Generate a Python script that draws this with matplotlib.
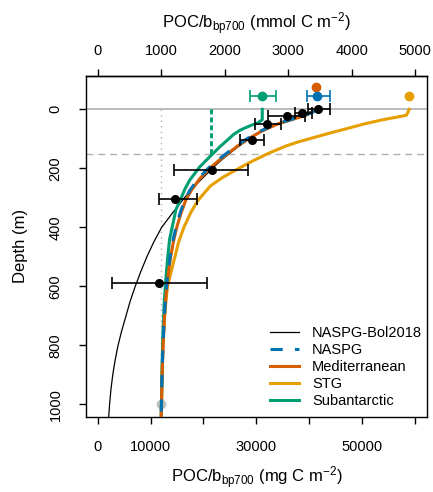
import matplotlib
matplotlib.use('Agg')
import matplotlib.pyplot as plt
import numpy as np

plt.rcParams['font.family'] = ['Liberation Sans', 'DejaVu Sans']
plt.rcParams['mathtext.fontset'] = 'custom'
plt.rcParams['mathtext.rm'] = 'Liberation Sans'
plt.rcParams['mathtext.default'] = 'regular'

MG_PER_MMOL = 12.011

# profile curves, POC/bbp700 (mg C m-2) against depth (m)
bol_depth = [0, 25, 50, 75, 100, 125, 150, 175, 200, 250, 300, 350, 400, 450, 500, 550,
             600, 650, 700, 750, 800, 850, 900, 950, 1000, 1042]
bol_poc = [41600, 37300, 33800, 31000, 28700, 26700, 24900, 23200, 21700, 18900, 16400, 14200,
           12100, 10600, 9300, 8150, 7100, 6150, 5350, 4550, 3850, 3300, 2850, 2500, 2250, 2080]

naspg_depth = [0, 10, 20, 35, 50, 75, 100, 125, 150, 175, 200, 235, 275, 310, 350, 400, 450,
               500, 550, 625, 700, 775, 850, 925, 1000, 1042]
naspg_poc = [41500, 40600, 39300, 36500, 33700, 30600, 28200, 26100, 24300, 22500, 20900, 19000,
             17400, 16400, 15600, 14800, 14150, 13700, 13300, 12900, 12600, 12400, 12250, 12130,
             12050, 12000]

med_depth = [0, 10, 20, 35, 50, 75, 100, 125, 150, 175, 200, 235, 275, 310, 350, 400, 450,
             500, 550, 625, 700, 775, 850, 925, 1000, 1042]
med_poc = [41300, 40500, 39400, 36700, 34000, 30900, 28500, 26400, 24600, 22800, 21200, 19300,
           17700, 16600, 15800, 14950, 14300, 13800, 13400, 12950, 12650, 12420, 12270, 12140,
           12060, 12010]

stg_depth = [0, 20, 25, 36, 50, 64, 80, 95, 110, 125, 150, 175, 200, 230, 260, 310, 350, 400,
             450, 500, 550, 600, 650, 700, 800, 900, 1000, 1042]
stg_poc = [58930, 58400, 57000, 53700, 50300, 47400, 44000, 41000, 38000, 35500, 32200, 29300,
           26700, 23700, 21300, 18900, 17600, 16300, 15300, 14600, 13900, 13200, 12900, 12650,
           12350, 12180, 12080, 12030]

sub_depth = [0, 35, 45, 55, 70, 85, 100, 127, 150, 175, 195, 240, 270, 300, 340, 390, 440, 500,
             550, 650, 750, 850, 1000, 1042]
sub_poc = [31120, 31120, 30400, 28900, 27000, 25700, 24800, 23100, 21800, 20400, 19300, 17400,
           16500, 15800, 14800, 14200, 13600, 13250, 13000, 12600, 12350, 12200, 12050, 12000]

# NASPG observations with error bars (mg C m-2)
obs_depth = [0, 11, 23, 50, 104, 204, 303, 589]
obs_poc = [41600, 38690, 35740, 31960, 29120, 21530, 14710, 11550]
obs_lo = [39830, 37310, 32260, 29800, 27000, 14450, 11550, 2710]
obs_hi = [43930, 40470, 39200, 34600, 31450, 28350, 18690, 20640]

# integrated values shown above the surface (mmol C m-2)
int_names = ['NASPG', 'Mediterranean', 'STG', 'Subantarctic']
int_mmol = [3457, 3437, 4906, 2591]
int_depth = [-46, -77, -46, -46]
int_lo = [3290, None, None, 2398]
int_hi = [3657, None, None, 2807]

sub_mld_mmol = 1779
ref_mmol = 1000
mld = 150

colors = {'NASPG': '#0072B2', 'Mediterranean': '#D55E00',
          'STG': '#E69F00', 'Subantarctic': '#009E73'}

fig = plt.figure(figsize=(4.33, 4.92), dpi=100)
ax = fig.add_axes([86/433, 1-416.7/492, (426.7-86)/433, (416.7-76)/492])

ax.axhline(0, color='#b0b0b0', lw=1.2, zorder=1)
ax.axhline(mld, color='#b0b0b0', lw=1.0, dashes=(5, 3.5), zorder=1)
ax.plot([ref_mmol*MG_PER_MMOL]*2, [0, 1000], color='#b0b0b0', lw=1.0, dashes=(1, 3), zorder=1)
ax.plot(ref_mmol*MG_PER_MMOL, 1000, 'o', color='#c0c0c0', ms=6, zorder=2)

ax.plot(bol_poc, bol_depth, color='black', lw=0.9, zorder=3, label='NASPG-Bol2018')
ax.plot(stg_poc, stg_depth, color=colors['STG'], lw=2.2, zorder=3, label='STG')
ax.plot(sub_poc, sub_depth, color=colors['Subantarctic'], lw=2.2, zorder=3, label='Subantarctic')
ax.plot([sub_mld_mmol*MG_PER_MMOL]*2, [0, mld], color=colors['Subantarctic'], lw=2.2,
        dashes=(1.6, 1.0), zorder=3)
ax.plot(med_poc, med_depth, color=colors['Mediterranean'], lw=2.2, zorder=4, label='Mediterranean')
ax.plot(naspg_poc, naspg_depth, color=colors['NASPG'], lw=2.2, dashes=(4, 4), zorder=5, label='NASPG')

obs_err = [np.array(obs_poc) - np.array(obs_lo), np.array(obs_hi) - np.array(obs_poc)]
ax.errorbar(obs_poc, obs_depth, xerr=obs_err, fmt='o', color='black', ms=5.5,
            elinewidth=1.2, capsize=4, capthick=1.2, zorder=6)

for name, v, d, lo, hi in zip(int_names, int_mmol, int_depth, int_lo, int_hi):
    c = colors[name]
    if lo is not None:
        ax.errorbar(v*MG_PER_MMOL, d, xerr=[[(v-lo)*MG_PER_MMOL], [(hi-v)*MG_PER_MMOL]],
                    fmt='o', color=c, ms=6, elinewidth=1.2, capsize=4, capthick=1.2, zorder=6)
    else:
        ax.plot(v*MG_PER_MMOL, d, 'o', color=c, ms=6, zorder=6)

ax.set_xlim(-2213, 62220)
ax.set_ylim(1042, -113)

ax.set_xticks([0, 10000, 20000, 30000, 40000, 50000, 60000])
ax.set_xticklabels(['0', '10000', '', '30000', '', '50000', ''])
ax.set_yticks([0, 200, 400, 600, 800, 1000])
ax.set_yticklabels(['0', '200', '400', '600', '800', '1000'], rotation=90, va='center')
ax.tick_params(axis='both', direction='out', length=5, width=1, labelsize=10.5, color='black')
ax.tick_params(axis='x', pad=12)
ax.tick_params(axis='y', pad=17)
for lab in ax.get_yticklabels():
    lab.set_ha('center')
for s in ax.spines.values():
    s.set_linewidth(1)

top = ax.secondary_xaxis('top', functions=(lambda x: x/MG_PER_MMOL, lambda x: x*MG_PER_MMOL))
top.set_xticks([0, 1000, 2000, 3000, 4000, 5000])
top.tick_params(direction='out', length=5, width=1, labelsize=10.5, pad=8)
top.spines['top'].set_linewidth(1)
top.set_xlabel(r'POC/b$_{bp700}$ (mmol C m$^{-2}$)', fontsize=12, labelpad=11)

ax.set_xlabel(r'POC/b$_{bp700}$ (mg C m$^{-2}$)', fontsize=12, labelpad=7)
ax.set_ylabel('Depth (m)', fontsize=12)
ax.yaxis.set_label_coords(-0.17, 0.5)

handles, labels = ax.get_legend_handles_labels()
order = ['NASPG-Bol2018', 'NASPG', 'Mediterranean', 'STG', 'Subantarctic']
hmap = dict(zip(labels, handles))
ax.legend([hmap[k] for k in order], order, loc='lower right', bbox_to_anchor=(1.012, 0.0),
          frameon=False, fontsize=10.5, handlelength=2.0, handletextpad=0.9,
          labelspacing=0.2, borderaxespad=0.2)

fig.savefig('out.png', dpi=100)
